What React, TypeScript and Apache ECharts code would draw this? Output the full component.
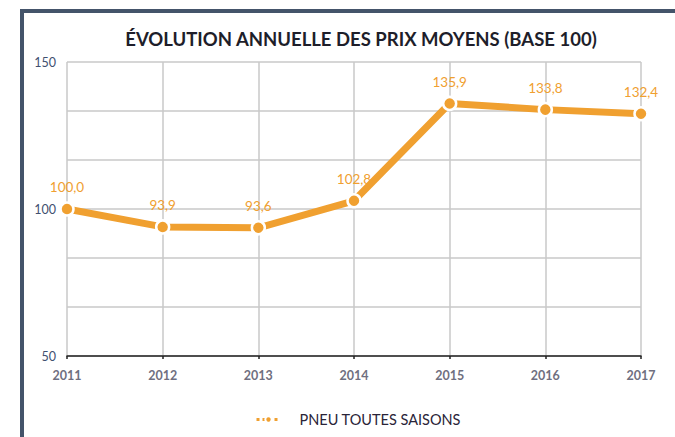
import React, { useEffect, useRef } from "react";
import * as echarts from "echarts";

const categories = ["2011", "2012", "2013", "2014", "2015", "2016", "2017"];
const values = [100.0, 93.9, 93.6, 102.8, 135.9, 133.8, 132.4];
const seriesName = "PNEU TOUTES SAISONS";
const titleText = "ÉVOLUTION ANNUELLE DES PRIX MOYENS (BASE 100)";

export default function App() {
  const ref = useRef<HTMLDivElement>(null);
  useEffect(() => {
    if (!ref.current) return;
    const chart = echarts.init(ref.current, null, { renderer: "svg" });
    const orange = "#f0a030";
    const frame = "#44546a";
    chart.setOption({
      animation: false,
      backgroundColor: "#ffffff",
      textStyle: { fontFamily: "Lato" },
      title: {
        text: titleText,
        left: 356,
        top: 24,
        textAlign: "center",
        textStyle: { fontSize: 18.5, fontWeight: "bold", color: "#1e1e2a", fontFamily: "Lato" },
      },
      graphic: [
        { type: "rect", shape: { x: 20, y: 9, width: 655, height: 4 }, style: { fill: frame } },
        { type: "rect", shape: { x: 20, y: 9, width: 4, height: 428 }, style: { fill: frame } },
      ],
      legend: {
        bottom: 5,
        left: 250,
        itemWidth: 24,
        itemHeight: 8,
        lineStyle: { width: 3, type: [3, 3] },
        textStyle: { fontSize: 14.5, color: "#2a2438", fontFamily: "Lato", padding: [0, 0, 0, 14] },
        data: [{ name: seriesName }],
      },
      grid: { left: 67, right: 34, top: 62, bottom: 81 },
      xAxis: {
        type: "category",
        data: categories,
        boundaryGap: false,
        axisLine: { lineStyle: { color: "#222222", width: 1.5 } },
        axisTick: { show: true, length: 3, lineStyle: { color: "#222222", width: 1.5 } },
        axisLabel: { color: "#6f6f80", fontWeight: "bold", fontSize: 12.5, margin: 13, fontFamily: "Lato" },
        splitLine: { show: true, lineStyle: { color: "#c8c8c8", width: 1.5 } },
      },
      yAxis: {
        type: "value",
        min: 50,
        max: 150,
        interval: 50,
        axisLine: { show: false },
        axisTick: { show: false },
        axisLabel: { color: "#3f5070", fontSize: 12.5, margin: 11, fontFamily: "Lato" },
        splitLine: { show: true, lineStyle: { color: "#c8c8c8", width: 1.5 } },
        minorTick: { show: false, splitNumber: 3 },
        minorSplitLine: { show: true, lineStyle: { color: "#c8c8c8", width: 1.5 } },
      },
      series: [
        {
          name: seriesName,
          type: "line",
          data: values,
          symbol: "circle",
          symbolSize: 13,
          lineStyle: { color: orange, width: 7 },
          itemStyle: { color: orange, borderColor: "#ffffff", borderWidth: 2.5 },
          label: {
            show: true,
            position: "top",
            distance: 7,
            color: orange,
            fontSize: 13.5,
            fontFamily: "Lato",
            formatter: (p: any) => Number(p.value).toFixed(1).replace(".", ","),
          },
        },
      ],
    });
    return () => chart.dispose();
  }, []);
  return <div ref={ref} style={{ width: 675, height: 437, position: "absolute", left: 0, top: 0 }} />;
}
